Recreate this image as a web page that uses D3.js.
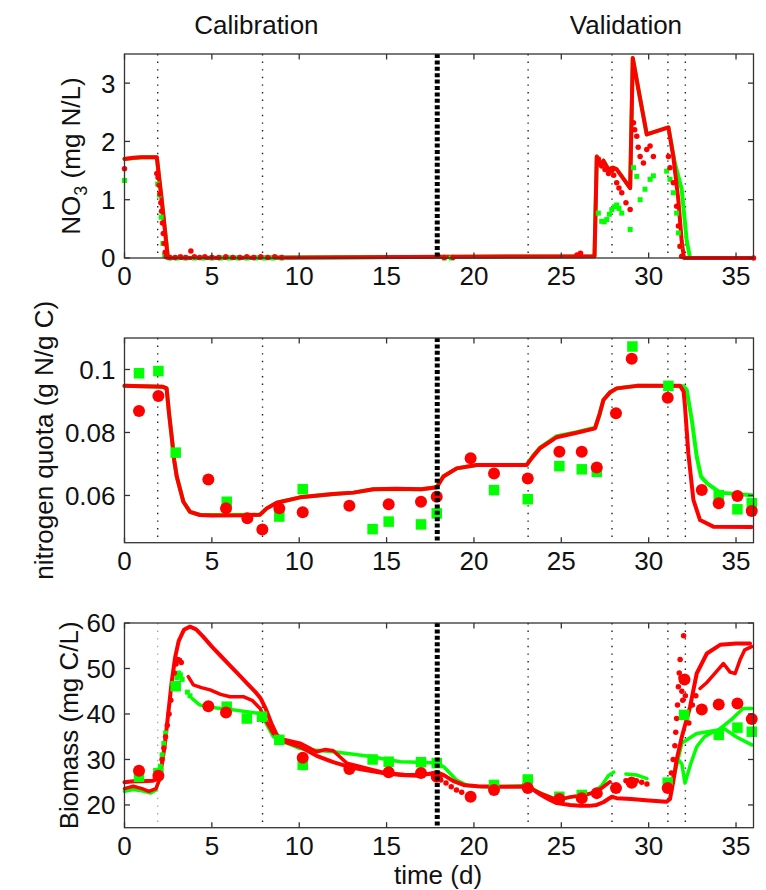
<!DOCTYPE html>
<html><head><meta charset="utf-8">
<script src="https://cdn.jsdelivr.net/npm/d3@7"></script>
<style>
body{margin:0;background:#fff}
svg{display:block}
text{font-family:"Liberation Sans",Arial,Helvetica,sans-serif;fill:#111}
</style>
</head><body><svg id="c" width="766" height="890"></svg>
<script>
// ---------- shared axis data ----------
const xDomain = [0, 36];
const xTicks = [0, 5, 10, 15, 20, 25, 30, 35];
const phaseLines = [1.9, 7.9, 23.1, 27.9, 31.1, 32.1];
const splitLine = 17.9;
const sectionTitles = ["Calibration", "Validation"];
const sectionTitleX = [7.55, 28.7];

// ---------- panel 1: NO3 ----------
const no3Domain = [0, 3.5];
const no3Ticks = [0, 1, 2, 3];
const no3GreenModel = [[0,1.70],[1.0,1.73],[1.85,1.73],[2.5,0],[26.9,0.03],[27.03,1.74],[27.22,1.60],[27.41,1.67],[27.7,1.52],[27.95,1.55],[28.17,1.52],[28.46,1.40],[28.94,1.20],[29.09,3.43],[29.5,2.75],[29.89,2.12],[31.13,2.24],[31.5,1.63],[31.89,1.18],[32.18,0.29],[32.37,0],[36,0]];
const no3RedModel = [[0,1.70],[0.5,1.72],[1.0,1.73],[1.85,1.73],[2.13,1.0],[2.48,0],[26.9,0.03],[27.03,1.74],[27.22,1.60],[27.41,1.67],[27.7,1.52],[27.95,1.55],[28.17,1.52],[28.46,1.40],[28.94,1.20],[29.09,3.43],[29.5,2.75],[29.89,2.12],[31.13,2.24],[31.41,1.74],[31.7,0.99],[31.89,0.29],[32.02,0],[36,0]];
const no3GreenObs = [[0,1.33],[1.9,1.27],[2.0,1.08],[2.1,0.7],[2.2,0.25],[2.3,0.05],[2.6,0],[3.0,0],[3.5,0],[4.0,0],[4.5,0],[5.0,0],[5.5,0],[6.0,0],[6.5,0],[7.0,0],[7.5,0],[8.0,0],[8.5,0],[9.0,0],[18.3,0],[18.7,0],[27.12,0.77],[27.31,0.63],[27.45,0.62],[27.6,0.66],[27.75,0.75],[27.89,0.83],[28.05,0.88],[28.17,0.91],[28.3,0.85],[28.46,0.77],[28.94,0.49],[29.13,1.55],[29.32,1.40],[29.51,1.0],[29.79,1.18],[30.08,1.35],[30.27,1.41],[31.03,1.49],[31.22,1.35],[31.41,1.12],[31.6,0.77],[31.7,0.43],[31.8,0.2]];
const no3RedObs = [[0,1.53],[1.85,1.45],[1.92,1.38],[1.98,1.25],[2.03,1.1],[2.08,0.95],[2.12,0.8],[2.17,0.6],[2.22,0.42],[2.27,0.25],[2.33,0.1],[2.4,0.02],[2.6,0.01],[2.9,0.01],[3.2,0.02],[3.5,0.01],[3.8,0.12],[4.0,0.02],[4.3,0.01],[4.6,0.02],[5.0,0.01],[5.4,0.01],[5.8,0.02],[6.2,0.01],[6.6,0.01],[7.0,0.02],[7.4,0.01],[7.8,0.02],[8.2,0.01],[8.6,0.02],[9.0,0.01],[17.95,0.03],[18.3,0.01],[18.8,0.01],[25.9,0.05],[26.1,0.08],[27.12,1.7],[27.31,1.58],[27.5,1.52],[27.7,1.45],[27.89,1.5],[28.0,1.42],[28.17,1.29],[28.3,1.2],[28.46,1.12],[28.7,0.95],[28.94,0.83],[29.13,2.32],[29.2,2.2],[29.32,2.09],[29.4,1.9],[29.51,1.74],[29.7,1.63],[29.89,1.86],[30.08,1.92],[30.27,1.74],[31.13,1.74],[31.22,1.55],[31.41,1.29],[31.6,0.89],[31.7,0.55],[31.8,0.2],[31.89,0.03],[36,0]];

// ---------- panel 2: nitrogen quota ----------
const quotaDomain = [0.045, 0.11];
const quotaTicks = [0.06, 0.08, 0.1];
const quotaGreenModel = [[0,0.0948],[2.2,0.0945],[2.41,0.094],[2.55,0.086],[2.70,0.0787],[2.85,0.071],[2.99,0.066],[3.37,0.058],[3.75,0.0548],[4.32,0.0538],[7.76,0.0539],[8.14,0.0559],[8.71,0.0577],[10.05,0.0594],[11.95,0.0605],[13.1,0.0609],[14.24,0.062],[17.0,0.062],[17.87,0.0626],[18.25,0.066],[19.01,0.0686],[20.16,0.0697],[23.02,0.0697],[23.4,0.0727],[23.78,0.0752],[24.74,0.0788],[25.88,0.0801],[26.93,0.0815],[27.2,0.086],[27.41,0.0903],[27.8,0.0928],[28.17,0.094],[29.32,0.0948],[32.0,0.0947],[32.18,0.0935],[32.47,0.0839],[32.75,0.0723],[33.0,0.066],[33.33,0.0639],[34.09,0.0609],[35.9,0.0601]];
const quotaRedModel = [[0,0.0948],[1.0,0.0947],[2.2,0.0945],[2.41,0.094],[2.55,0.086],[2.70,0.0787],[2.85,0.071],[2.99,0.066],[3.37,0.058],[3.75,0.0548],[4.32,0.0538],[5,0.0536],[7,0.0537],[7.76,0.0539],[8.14,0.0559],[8.71,0.0577],[10.05,0.0594],[11.95,0.0605],[13.1,0.0609],[14.24,0.062],[15.5,0.0621],[17.0,0.062],[17.87,0.0626],[18.25,0.066],[19.01,0.0686],[20.16,0.0697],[23.02,0.0697],[23.4,0.0725],[23.78,0.075],[24.74,0.0785],[25.88,0.0799],[26.93,0.0813],[27.2,0.086],[27.41,0.0903],[27.8,0.0928],[28.17,0.094],[29.32,0.0948],[31.8,0.0948],[32.0,0.093],[32.08,0.0882],[32.27,0.0734],[32.56,0.0586],[32.94,0.0522],[33.7,0.0501],[35.9,0.050]];
const quotaRedObs = [[0.83,0.0868],[1.94,0.0916],[4.8,0.0651],[5.81,0.0559],[7.03,0.0528],[7.89,0.0492],[8.86,0.0559],[10.2,0.0547],[12.87,0.0567],[15.12,0.0572],[16.97,0.058],[17.87,0.0596],[19.81,0.0718],[21.15,0.0670],[23.08,0.0654],[24.89,0.0739],[26.17,0.0739],[27.03,0.0689],[28.13,0.0861],[29.03,0.1034],[31.09,0.0910],[33.04,0.0617],[34.01,0.0575],[35.08,0.0598],[35.9,0.0551]];
const quotaGreenObs = [[0.83,0.0988],[1.94,0.0995],[2.93,0.0736],[5.85,0.058],[8.86,0.0533],[10.2,0.062],[14.2,0.0493],[15.12,0.0517],[16.97,0.0508],[17.87,0.0543],[21.15,0.0617],[23.08,0.0588],[24.89,0.0693],[26.17,0.0683],[27.03,0.0675],[29.07,0.1073],[31.13,0.0948],[34.01,0.0601],[35.08,0.0556],[35.9,0.0575]];

// ---------- panel 3: biomass ----------
const bioDomain = [15, 60];
const bioTicks = [20, 30, 40, 50, 60];
const bioGreenModelB = [[0,23.0],[0.5,23.4],[1.0,23.1],[1.5,22.6],[1.8,23.3],[2.0,26.0],null,[3.87,43.4],[4.3,42.0],[4.74,41.6],[5.5,41.2],[6.27,40.9],[7.0,40.5],[7.76,40.1],[8.1,38.0],[8.52,35.0],[9.1,33.9],[10.05,32.4],[11.0,32.0],[11.95,31.7],[13.0,31.2],[14.2,30.6],[15.0,30.0],[15.8,29.5],[16.8,29.4],[17.9,29.2],[18.3,28.3],[19.0,25.5],[19.6,24.3],[20.5,24.0],[22.8,24.2],[23.3,23.6],[24.0,22.3],[24.7,21.3],[25.5,21.7],[26.2,22.1],[26.8,22.7],[27.3,24.2],[27.7,26.5],[28.0,27.2],null,[28.7,26.8],[29.3,26.6],[29.9,25.8],null,[31.1,24.0],[31.5,27.0],[31.9,33.6],[32.75,35.7],[34.0,36.5],[34.8,39.0],[35.4,41.2],[35.9,41.2]];
const bioGreenModelC = [[31.7,30.0],[31.9,29.0],[32.08,24.8],[32.4,29.0],[32.75,32.8],[33.2,35.0],[33.7,36.1],[34.28,36.9],[35.0,35.0],[35.9,33.2]];
const bioRedModelA = [[0,25.0],[0.5,25.2],[1.0,25.2],[1.6,25.3],[1.9,25.8],[2.1,28],[2.3,33],[2.5,40],[2.7,47],[2.9,52.5],[3.1,56],[3.4,58.5],[3.75,59.2],[4.1,58.6],[4.5,57],[5.0,54.8],[5.5,52.8],[6.0,50.8],[6.5,48.8],[7.0,46.8],[7.5,44.8],[7.8,43.4],[8.1,41],[8.4,38],[8.7,35.5],[9.1,34],[9.5,33.5],[10.05,32.8],[11,30.8],[11.95,29.4],[12.9,28.3],[13.86,27.6],[14.8,27.0],[15.8,26.6],[16.8,26.4],[17.9,27.2],[18.3,26.5],[18.8,25.3],[19.4,24.4],[20.2,24.1],[21.3,24.0],[22.8,24.0],[23.3,23.6],[23.8,22.3],[24.3,21.2],[24.74,20.4],[25.5,20.0],[26.07,19.8],[26.6,19.8],[27.03,20.0],[27.4,20.6],[27.89,21.8],[28.17,21.5],[29,21.3],[30,21.0],[31.03,20.7],[31.22,21.3],[31.4,25],[31.6,29.9],[31.9,35],[32.37,41.6],[32.75,48.9],[33.33,53.3],[34.09,55.2],[35,55.5],[35.8,55.5]];
const bioRedModelB = [[0,23.6],[0.5,24.1],[1.0,23.6],[1.4,23.0],[1.8,23.6],[2.0,25.5],null,[3.65,48.2],[3.94,46.4],[4.4,45.8],[4.9,45.3],[5.5,44.3],[6.04,43.8],[6.8,43.8],[7.3,43.0],[7.76,41.2],[8.1,38.5],[8.52,35.7],[9.0,34.5],[10.05,33.6],[11.0,31.7],[11.5,32.2],[11.95,31.9],[12.72,29.2],[13.86,28.1],[15.0,27.0],[16.0,26.7],[16.97,26.6],[17.9,27.0],null,[22.83,24.4],[23.78,22.6],[24.74,21.1],[25.6,21.8],[26.35,22.2],[27.03,22.9],[27.79,25.1],null,[32.94,45.6],[33.3,46.8],[33.8,49.0],[34.28,51.1],[34.66,49.2],[34.95,48.9],[35.23,51.9],[35.5,54.1],[35.9,54.8]];
const bioGreenSensor = [[1.95,27.0],[2.05,28.5],[2.15,31.0],[2.25,33.5],[2.35,35.8],[3.0,48.0],[3.1,49.0],[3.2,48.6],[3.3,47.6],[3.6,44.8],[3.75,44.0]];
const bioRedSensor = [[1.94,26.5],[2.05,27.5],[2.15,30],[2.25,32.5],[2.35,35],[2.45,37.5],[2.55,40],[2.65,43],[2.75,46],[2.85,49],[2.95,51],[3.05,52],[3.15,51.8],[3.25,51.3],[18.1,25.5],[18.4,24.8],[18.7,24.0],[19.0,23.3],[19.3,22.8],[28.7,25.3],[29.0,25.6],[29.3,25.3],[29.6,25.0],[29.9,24.6],[31.1,24],[31.2,25],[31.3,27],[31.4,30],[31.5,33],[31.55,36],[31.6,39],[31.65,42],[31.7,46],[31.75,49],[31.8,52],[31.85,48],[31.9,45],[31.95,43],[32.0,57.2],[32.1,44],[32.2,40],[32.3,38],[32.5,42],[32.7,44]];
const bioRedObs = [[0.83,27.5],[1.94,26.4],[4.8,41.7],[5.81,40.3],[10.2,30.4],[12.87,27.9],[15.12,27.2],[16.97,27.0],[17.87,26.2],[19.81,21.8],[21.15,23.3],[23.08,23.7],[24.89,21.3],[26.17,21.5],[27.03,22.6],[28.13,23.7],[29.03,24.9],[31.09,23.7],[32.05,47.6],[33.04,41.0],[34.01,42.1],[35.08,42.3],[35.9,38.9]];
const bioGreenObs = [[0.83,26.2],[1.94,27.0],[2.93,46.1],[5.85,41.6],[7.0,39.0],[7.87,39.4],[8.86,34.3],[10.2,28.8],[14.2,30.0],[15.12,29.5],[16.97,29.4],[17.87,29.2],[21.15,24.4],[23.08,25.6],[24.89,21.8],[26.17,22.2],[31.09,24.9],[32.03,39.8],[34.01,35.4],[35.08,37.0],[35.9,36.1]];

// ---------- drawing ----------
const RED = "#ff0000", GREEN = "#00ff00";
const svg = d3.select("#c");
const L = 124.5, R = 753.5;
const x = d3.scaleLinear().domain(xDomain).range([L, R]);
const FS = 26;

function panel(cfg) {
  const y = d3.scaleLinear().domain(cfg.domain).range([cfg.bottom, cfg.top]);
  const g = svg.append("g");
  const line = d3.line().defined(d => d !== null).x(d => x(d[0])).y(d => y(d[1]));

  phaseLines.forEach((p, i) => {
    g.append("line").attr("x1", x(p)).attr("x2", x(p)).attr("y1", cfg.top).attr("y2", cfg.bottom)
      .attr("stroke", (cfg.lightFirst && i === 0) ? "#aaa" : "#222").attr("stroke-width", 1.4)
      .attr("stroke-dasharray", "1.4,6.2");
  });

  cfg.lines.forEach(s => {
    g.append("path").attr("d", line(s.data)).attr("fill", "none").attr("stroke", s.color)
      .attr("stroke-width", s.width || 4).attr("stroke-linejoin", "round").attr("stroke-linecap", "round");
  });
  cfg.dots.forEach(s => {
    if (s.shape === "square") {
      g.append("g").selectAll("rect").data(s.data).join("rect")
        .attr("x", d => x(d[0]) - s.size / 2).attr("y", d => y(d[1]) - s.size / 2)
        .attr("width", s.size).attr("height", s.size).attr("fill", s.color);
    } else {
      g.append("g").selectAll("circle").data(s.data).join("circle")
        .attr("cx", d => x(d[0])).attr("cy", d => y(d[1])).attr("r", s.size / 2).attr("fill", s.color);
    }
  });

  g.append("line").attr("x1", x(splitLine)).attr("x2", x(splitLine)).attr("y1", cfg.top).attr("y2", cfg.bottom)
    .attr("stroke", "#000").attr("stroke-width", 5).attr("stroke-dasharray", "4,2.4");

  g.append("rect").attr("x", L).attr("y", cfg.top).attr("width", R - L).attr("height", cfg.bottom - cfg.top)
    .attr("fill", "none").attr("stroke", "#333").attr("stroke-width", 1.3);

  const tl = 5.5;
  xTicks.forEach(t => {
    const px = x(t);
    g.append("line").attr("x1", px).attr("x2", px).attr("y1", cfg.bottom).attr("y2", cfg.bottom - tl).attr("stroke", "#333").attr("stroke-width", 1.3);
    g.append("line").attr("x1", px).attr("x2", px).attr("y1", cfg.top).attr("y2", cfg.top + tl).attr("stroke", "#333").attr("stroke-width", 1.3);
    g.append("text").attr("x", px).attr("y", cfg.bottom + 27).attr("text-anchor", "middle").attr("font-size", FS).text(t);
  });
  cfg.ticks.forEach(t => {
    const py = y(t);
    g.append("line").attr("x1", L).attr("x2", L + tl).attr("y1", py).attr("y2", py).attr("stroke", "#333").attr("stroke-width", 1.3);
    g.append("line").attr("x1", R).attr("x2", R - tl).attr("y1", py).attr("y2", py).attr("stroke", "#333").attr("stroke-width", 1.3);
    g.append("text").attr("x", L - 9).attr("y", py).attr("dy", "0.36em").attr("text-anchor", "end").attr("font-size", FS).text(cfg.fmt(t));
  });

  const cy = (cfg.top + cfg.bottom) / 2;
  const lab = g.append("text").attr("transform", `translate(${cfg.labelX},${cy}) rotate(-90)`).attr("text-anchor", "middle").attr("font-size", FS);
  cfg.label.forEach(part => {
    const ts = lab.append("tspan").text(part.t);
    if (part.sub) ts.attr("font-size", 18).attr("dy", 7);
    if (part.after) ts.attr("dy", -7);
  });
  return y;
}

panel({
  top: 54, bottom: 258, domain: no3Domain, ticks: no3Ticks, fmt: d3.format("d"), labelX: 80,
  label: [{t: "NO"}, {t: "3", sub: true}, {t: " (mg N/L)", after: true}],
  lines: [{data: no3GreenModel, color: GREEN}, {data: no3RedModel, color: RED}],
  dots: [{data: no3GreenObs, color: GREEN, shape: "square", size: 5}, {data: no3RedObs, color: RED, shape: "circle", size: 5.5}]
});
panel({
  top: 338, bottom: 542.7, domain: quotaDomain, ticks: quotaTicks, fmt: d => d === 0.1 ? "0.1" : d3.format(".2f")(d), labelX: 53,
  label: [{t: "nitrogen quota (g N/g C)"}],
  lines: [{data: quotaGreenModel, color: GREEN}, {data: quotaRedModel, color: RED}],
  dots: [{data: quotaGreenObs, color: GREEN, shape: "square", size: 10.5}, {data: quotaRedObs, color: RED, shape: "circle", size: 12}]
});
panel({
  top: 623, bottom: 827.7, domain: bioDomain, ticks: bioTicks, fmt: d3.format("d"), lightFirst: true, labelX: 78,
  label: [{t: "Biomass (mg C/L)"}],
  lines: [{data: bioGreenModelB, color: GREEN, width: 3.5}, {data: bioGreenModelC, color: GREEN, width: 3.5},
          {data: bioRedModelA, color: RED}, {data: bioRedModelB, color: RED, width: 3.5}],
  dots: [{data: bioGreenSensor, color: GREEN, shape: "square", size: 5}, {data: bioRedSensor, color: RED, shape: "circle", size: 5.5},
         {data: bioGreenObs, color: GREEN, shape: "square", size: 10.5}, {data: bioRedObs, color: RED, shape: "circle", size: 12}]
});

sectionTitles.forEach((t, i) => {
  svg.append("text").attr("x", x(sectionTitleX[i])).attr("y", 34).attr("text-anchor", "middle").attr("font-size", FS).text(t);
});
svg.append("text").attr("x", 438).attr("y", 884).attr("text-anchor", "middle").attr("font-size", FS).text("time (d)");
</script></body></html>
